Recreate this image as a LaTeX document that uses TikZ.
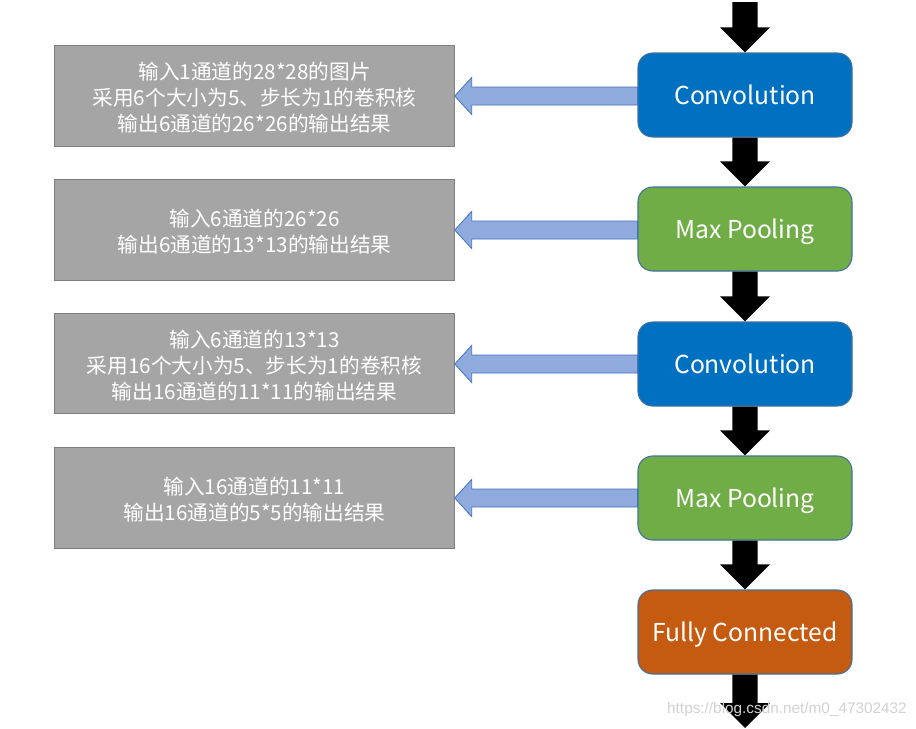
\documentclass[tikz,border=0pt]{standalone}
\usepackage{fontspec}
\setmainfont{Noto Sans CJK SC}
\newfontfamily\wmfont{Liberation Sans}
\usetikzlibrary{calc}
\definecolor{convblue}{HTML}{0070C0}
\definecolor{poolgreen}{HTML}{70AD47}
\definecolor{fcorange}{HTML}{C55A11}
\definecolor{boxedge}{HTML}{41719C}
\definecolor{graybox}{HTML}{A5A5A5}
\definecolor{grayedge}{HTML}{7F7F7F}
\definecolor{arrowfill}{HTML}{8FAADC}
\definecolor{arrowedge}{HTML}{4472C4}
\tikzset{
  layer/.style={draw=boxedge, line width=0.8pt, rounded corners=11pt, minimum width=160.5pt, minimum height=63pt, text=white, font=\fontsize{18.5}{22}\selectfont, inner sep=0pt, text height=13.5pt, text depth=0pt},
  note/.style={draw=grayedge, fill=graybox, line width=0.8pt, minimum width=299.5pt, minimum height=75.5pt, inner sep=0pt},
  notetext/.style={text=white, align=center, font=\fontsize{15.5}{19.5}\selectfont, inner sep=0pt},
  blkarrow/.style={fill=black},
  bluearrow/.style={fill=arrowfill, draw=arrowedge, line width=0.6pt},
}
% down block arrow from #1 to #2
\newcommand\downblk[2]{%
  \fill[blkarrow] let \p1=(#1), \p2=(#2) in
    (\x1-9.4pt,\y1) -- (\x1+9.4pt,\y1) -- (\x1+9.4pt,\y2+18.75pt) -- (\x1+18.75pt,\y2+18.75pt)
    -- (\x2,\y2) -- (\x1-18.75pt,\y2+18.75pt) -- (\x1-9.4pt,\y2+18.75pt) -- cycle;}
% left block arrow from #1 (right) to #2 (left)
\newcommand\leftblk[2]{%
  \draw[bluearrow] let \p1=(#1), \p2=(#2) in
    (\x1,\y1+6.75pt) -- (\x2+12.75pt,\y1+6.75pt) -- (\x2+12.75pt,\y1+13.9pt) -- (\x2,\y1)
    -- (\x2+12.75pt,\y1-13.9pt) -- (\x2+12.75pt,\y1-6.75pt) -- (\x1,\y1-6.75pt) -- cycle;}
\begin{document}
\begin{tikzpicture}[x=0.75pt,y=-0.75pt]
\useasboundingbox (0,0) rectangle (916,728);
% right column
\node[layer, fill=convblue]   (c1) at (745,95)  {Convolution};
\node[layer, fill=poolgreen]  (p1) at (745,229) {Max Pooling};
\node[layer, fill=convblue]   (c2) at (745,364) {Convolution};
\node[layer, fill=poolgreen]  (p2) at (745,498) {Max Pooling};
\node[layer, fill=fcorange]   (fc) at (745,632) {Fully Connected};
% left notes
\node[note] (n1) at (254.5,96)  {};
\node[note] (n2) at (254.5,230) {};
\node[note] (n3) at (254.5,363.5) {};
\node[note] (n4) at (254.5,498) {};
\node[notetext] (t1) at ($(n1.center)+(0,1.8)$) {输入1通道的28*28的图片\\采用6个大小为5、步长为1的卷积核\\输出6通道的26*26的输出结果};
\node[notetext] (t2) at ($(n2.center)+(0,1.2)$) {输入6通道的26*26\\输出6通道的13*13的输出结果};
\node[notetext] (t3) at ($(n3.center)+(0,1.8)$) {输入6通道的13*13\\采用16个大小为5、步长为1的卷积核\\输出16通道的11*11的输出结果};
\node[notetext] (t4) at ($(n4.center)+(0,1.2)$) {输入16通道的11*11\\输出16通道的5*5的输出结果};
% free ends
\coordinate (top) at (745,2);
\coordinate (bot) at (745,728);
% black arrows
\downblk{top}{c1.north}
\downblk{c1.south}{p1.north}
\downblk{p1.south}{c2.north}
\downblk{c2.south}{p2.north}
\downblk{p2.south}{fc.north}
\downblk{fc.south}{bot}
% blue arrows
\leftblk{c1.west |- 0,96}{n1.east}
\leftblk{p1.west |- 0,230}{n2.east}
\leftblk{c2.west |- 0,364}{n3.east}
\leftblk{p2.west |- 0,498}{n4.east}
% watermark
\node[anchor=east, text=black!18, font=\wmfont\fontsize{11.5}{13}\selectfont, inner sep=0pt] (wm) at (907,710) {https://blog.csdn.net/m0\_47302432};
\end{tikzpicture}
\end{document}
